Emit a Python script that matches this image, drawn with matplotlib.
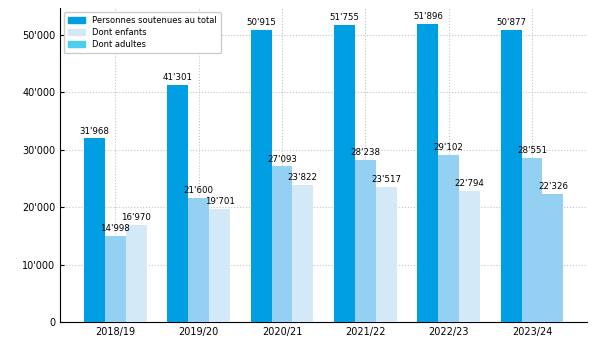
import matplotlib.pyplot as plt
import matplotlib.ticker as mticker
from matplotlib.patches import Patch
import numpy as np

# data
years = ["2018/19", "2019/20", "2020/21", "2021/22", "2022/23", "2023/24"]
total = [31968, 41301, 50915, 51755, 51896, 50877]
enfants = [14998, 21600, 27093, 28238, 29102, 28551]
adultes = [16970, 19701, 23822, 23517, 22794, 22326]

c_total = "#009ee2"
c_mid = "#93d0f1"
c_light = "#d3e9f8"
c_leg_adultes = "#4ccfee"

# bar colours as they appear in the picture (last adults bar is mid blue)
adultes_colors = [c_light] * 5 + [c_mid]


def fmt(v):
    return f"{v:,}".replace(",", "'")


fig, ax = plt.subplots(figsize=(5.95, 3.57), dpi=100)
fig.subplots_adjust(left=0.101, right=0.987, bottom=0.098, top=0.978)

x = np.arange(len(years))
w = 0.25

b1 = ax.bar(x - w, total, w, color=c_total, zorder=3)
b2 = ax.bar(x, enfants, w, color=c_mid, zorder=3)
b3 = ax.bar(x + w, adultes, w, color=adultes_colors, zorder=3)

for bars, vals in [(b1, total), (b2, enfants), (b3, adultes)]:
    for rect, v in zip(bars, vals):
        ax.annotate(fmt(v), (rect.get_x() + rect.get_width() / 2, v),
                    xytext=(0, 2), textcoords="offset points",
                    ha="center", va="bottom", fontsize=6.2, zorder=4)

ax.set_xticks(x)
ax.set_xticklabels(years, fontsize=7)
ax.yaxis.set_major_locator(mticker.MultipleLocator(10000))
ax.yaxis.set_major_formatter(mticker.FuncFormatter(lambda v, p: fmt(int(v))))
ax.tick_params(axis="y", labelsize=7, direction="in", length=3)
ax.tick_params(axis="x", direction="in", length=3)
ax.set_ylim(0, 54700)

ax.grid(True, linestyle=":", color="#c4c4c4", linewidth=0.8, zorder=0)
ax.spines["top"].set_visible(False)
ax.spines["right"].set_visible(False)

handles = [Patch(color=c_total, label="Personnes soutenues au total"),
           Patch(color=c_light, label="Dont enfants"),
           Patch(color=c_leg_adultes, label="Dont adultes")]
ax.legend(handles=handles, loc="upper left", fontsize=6, framealpha=1,
          borderpad=0.5, handlelength=2.0, labelspacing=0.35)

fig.savefig("out.png", dpi=100)
